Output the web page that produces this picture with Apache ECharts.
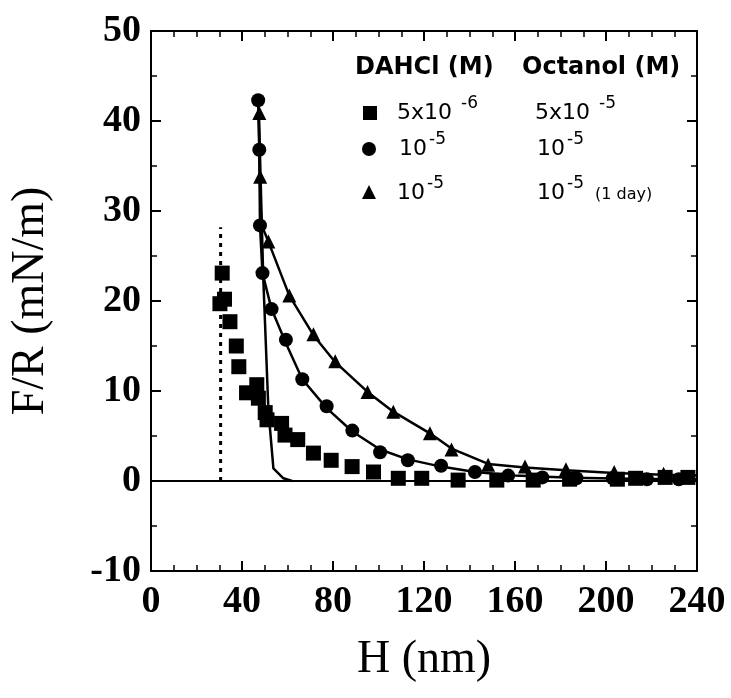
<!DOCTYPE html>
<html>
<head>
<meta charset="utf-8">
<script src="https://cdn.jsdelivr.net/npm/echarts@6/dist/echarts.min.js"></script>
<style>
  html, body {margin: 0; padding: 0; background: #fff;}
  #chart {width: 731px; height: 698px;}
</style>
</head>
<body>
<div id="chart"></div>
<script>
// H (nm), F/R (mN/m)
// DAHCl 5x10^-6 M, octanol 5x10^-5 M
const squarePts = [
  [31.3, 23.1], [30.3, 19.7], [32.3, 20.2], [34.7, 17.7], [37.5, 15.0], [38.6, 12.7],
  [42.0, 9.8], [46.5, 10.7], [47.2, 9.2], [50.2, 7.6], [51.0, 6.8], [57.4, 6.4],
  [58.9, 5.1], [64.5, 4.6], [71.4, 3.1], [79.2, 2.3], [88.4, 1.6], [97.8, 1.0],
  [108.7, 0.3], [119, 0.3], [135, 0.1], [152, 0.1], [168, 0.1], [184, 0.2],
  [205, 0.2], [213, 0.3], [226, 0.4], [236, 0.4]
]
// DAHCl 10^-5 M, octanol 10^-5 M
const circlePts = [
  [47.1, 42.3], [47.6, 36.8], [47.9, 28.4], [49.0, 23.1], [53.0, 19.1], [59.3, 15.7],
  [66.5, 11.3], [77.2, 8.3], [88.5, 5.6], [100.7, 3.2], [112.9, 2.3], [127.5, 1.7],
  [142.4, 1.0], [157, 0.6], [172, 0.4], [187, 0.3], [203, 0.3], [218, 0.2], [232, 0.2]
]
// DAHCl 10^-5 M, octanol 10^-5 M (1 day)
const trianglePts = [
  [47.6, 40.9], [48.0, 33.8], [51.6, 26.6], [60.8, 20.6], [71.4, 16.3], [81.0, 13.3],
  [95.2, 9.9], [106.5, 7.7], [122.6, 5.3], [132.1, 3.5], [148.2, 1.8], [164.4, 1.6],
  [182.4, 1.3], [203.6, 1.0], [225.3, 0.8]
]
// fitted curves
const squareFit = [[47.3, 42.0], [49.3, 22.9], [51.6, 7.9], [53.8, 1.4], [58.2, 0.3], [62, 0]]
const circleFit = [
  [47.1, 42.3], [47.6, 36.8], [47.9, 28.4], [49.0, 23.1], [53.0, 19.1], [59.3, 15.3],
  [66.5, 11.3], [77.2, 8.1], [88.5, 5.5], [100.7, 3.5], [112.9, 2.4], [127.5, 1.6],
  [142.4, 1.0], [160, 0.6], [185, 0.35], [210, 0.25], [240, 0.2]
]
const triangleFit = [
  [47.3, 42.0], [47.8, 33.8], [48.5, 28.5], [51.6, 26.6], [60.8, 20.6], [71.4, 16.2],
  [81.0, 13.2], [95.2, 9.9], [106.5, 7.7], [122.6, 5.3], [132.1, 3.6], [148.2, 1.9],
  [164.4, 1.5], [182.4, 1.2], [203.6, 0.9], [225.3, 0.7], [240, 0.6]
]
const dottedLine = [[30.6, 0], [30.6, 28.2]]
const xTicks = { min: 0, max: 240, interval: 40 }
const yTicks = { min: -10, max: 50, interval: 10 }

const chart = echarts.init(document.getElementById('chart'))

const serif = 'Liberation Serif'

function axisBase (extra) {
  return Object.assign({
    type: 'value',
    axisLine: { show: true, onZero: false, lineStyle: { color: '#000', width: 2 } },
    axisTick: { show: true, inside: true, length: 10, lineStyle: { color: '#000', width: 2 } },
    minorTick: { show: true, length: 6, lineStyle: { color: '#000', width: 1.5 } },
    splitLine: { show: false },
    axisLabel: { show: false }
  }, extra)
}

const labelStyle = { color: '#000', fontFamily: serif, fontWeight: 'bold', fontSize: 38 }

function curve (data) {
  return {
    type: 'line', data: data, symbol: 'none', silent: true, z: 2,
    lineStyle: { color: '#000', width: 2.5 }
  }
}

function pts (data, symbol, size) {
  return {
    type: 'scatter', data: data, symbol: symbol, symbolSize: size, silent: true, z: 3,
    itemStyle: { color: '#000', opacity: 1 }
  }
}

function legendText (x, y, base, sup, supDx, tail) {
  const out = [
    { type: 'text', x: x, y: y, style: { text: base, font: '22px "DejaVu Sans"', fill: '#000', verticalAlign: 'middle' } },
    { type: 'text', x: x + supDx, y: y - 9, style: { text: sup, font: '17px "DejaVu Sans"', fill: '#000', verticalAlign: 'middle' } }
  ]
  if (tail) {
    out.push({ type: 'text', x: x + supDx + 28, y: y + 2, style: { text: tail, font: '16px "DejaVu Sans"', fill: '#000', verticalAlign: 'middle' } })
  }
  return out
}

const graphic = [
  { type: 'text', x: 355, y: 68, style: { text: 'DAHCl (M)', font: 'bold 24px "DejaVu Sans"', fill: '#000', verticalAlign: 'middle' } },
  { type: 'text', x: 522, y: 68, style: { text: 'Octanol (M)', font: 'bold 24px "DejaVu Sans"', fill: '#000', verticalAlign: 'middle' } },
  { type: 'rect', shape: { x: 363, y: 106, width: 14, height: 14 }, style: { fill: '#000' } },
  { type: 'circle', shape: { cx: 369, cy: 149, r: 7 }, style: { fill: '#000' } },
  { type: 'polygon', shape: { points: [[369, 185], [362, 199], [376, 199]] }, style: { fill: '#000' } }
]
  .concat(legendText(397, 113, '5x10', '-6', 64))
  .concat(legendText(535, 113, '5x10', '-5', 64))
  .concat(legendText(399, 149, '10', '-5', 30))
  .concat(legendText(537, 149, '10', '-5', 30))
  .concat(legendText(397, 193, '10', '-5', 30))
  .concat(legendText(537, 193, '10', '-5', 30, '(1 day)'))

chart.setOption({
  backgroundColor: '#fff',
  animation: false,
  grid: { left: 150, right: 34, top: 31, bottom: 127, containLabel: false },
  xAxis: [
    axisBase({
      min: xTicks.min, max: xTicks.max, interval: xTicks.interval, position: 'bottom',
      minorTick: { show: true, splitNumber: 4, length: 6, lineStyle: { color: '#000', width: 1.5 } },
      axisLabel: Object.assign({ show: true, margin: 12 }, labelStyle),
      name: 'H (nm)', nameLocation: 'middle', nameGap: 66,
      nameTextStyle: { color: '#000', fontFamily: serif, fontSize: 46 }
    }),
    axisBase({
      min: xTicks.min, max: xTicks.max, interval: xTicks.interval, position: 'top',
      minorTick: { show: true, splitNumber: 4, length: 6, lineStyle: { color: '#000', width: 1.5 } }
    })
  ],
  yAxis: [
    axisBase({
      min: yTicks.min, max: yTicks.max, interval: yTicks.interval, position: 'left',
      minorTick: { show: true, splitNumber: 2, length: 6, lineStyle: { color: '#000', width: 1.5 } },
      axisLabel: Object.assign({ show: true, margin: 10 }, labelStyle),
      name: 'F/R (mN/m)', nameLocation: 'middle', nameGap: 97, nameRotate: 90,
      nameTextStyle: { color: '#000', fontFamily: serif, fontSize: 46 }
    }),
    axisBase({
      min: yTicks.min, max: yTicks.max, interval: yTicks.interval, position: 'right',
      minorTick: { show: true, splitNumber: 2, length: 6, lineStyle: { color: '#000', width: 1.5 } }
    })
  ],
  graphic: graphic,
  series: [
    Object.assign(curve(squareFit), {
      markLine: {
        silent: true, symbol: 'none', label: { show: false },
        lineStyle: { color: '#000', width: 2, type: 'solid' },
        data: [{ yAxis: 0 }]
      }
    }),
    curve(circleFit),
    curve(triangleFit),
    {
      type: 'line', data: dottedLine, symbol: 'none', silent: true, z: 2,
      lineStyle: { color: '#000', width: 3, type: [4, 5] }
    },
    pts(squarePts, 'rect', 15),
    pts(circlePts, 'circle', 14),
    pts(trianglePts, 'triangle', 14)
  ]
})
</script>
</body>
</html>
